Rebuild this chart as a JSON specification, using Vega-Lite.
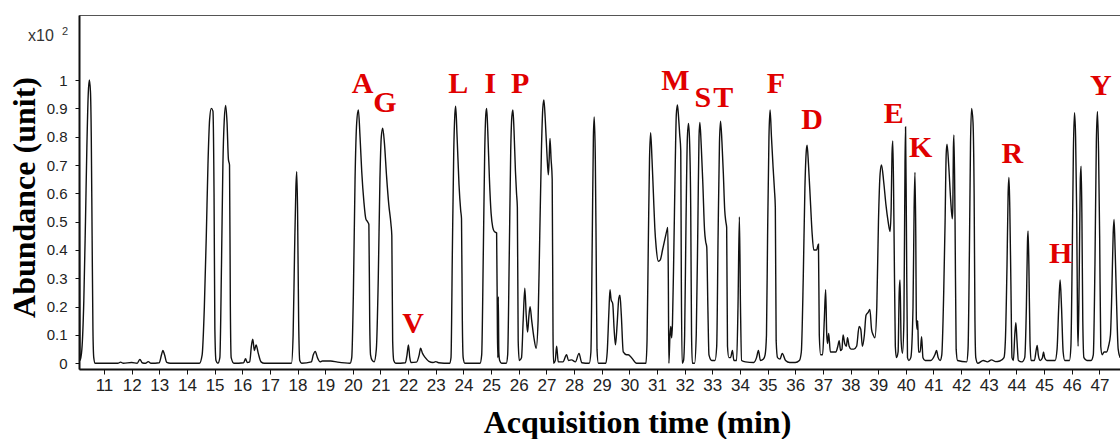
{
  "$schema": "https://vega.github.io/schema/vega-lite/v6.json",
  "width": 1042,
  "height": 354,
  "autosize": {"type": "none"},
  "padding": {"left": 79, "top": 15, "right": 0, "bottom": 70},
  "background": "white",
  "config": {
    "view": {"stroke": "#555", "strokeWidth": 1},
    "axis": {"grid": false}
  },
  "datasets": {
    "trace": [
      {"t":10.10,"v":1.10},{"t":10.12,"v":0.30},{"t":10.135,"v":0.01},{"t":10.20,"v":0.05},{"t":10.27,"v":0.22},{"t":10.33,"v":0.50},{"t":10.38,"v":0.76},{"t":10.43,"v":0.95},{"t":10.47,"v":1.0},{"t":10.51,"v":0.96},{"t":10.54,"v":0.80},{"t":10.57,"v":0.45},{"t":10.60,"v":0.12},{"t":10.63,"v":0.02},{"t":10.68,"v":0.0},
      {"t":11.50,"v":0.0},{"t":11.60,"v":0.004},{"t":11.70,"v":0.0},{"t":12.0,"v":0.003},{"t":12.20,"v":0.0},{"t":12.30,"v":0.014},{"t":12.38,"v":0.002},{"t":12.50,"v":0.0},{"t":12.60,"v":0.006},{"t":12.70,"v":0.0},
      {"t":13.00,"v":0.002},{"t":13.08,"v":0.03},{"t":13.13,"v":0.045},{"t":13.19,"v":0.03},{"t":13.27,"v":0.003},{"t":13.40,"v":0.0},
      {"t":14.45,"v":0.0},{"t":14.55,"v":0.03},{"t":14.63,"v":0.20},{"t":14.70,"v":0.45},{"t":14.76,"v":0.70},{"t":14.82,"v":0.86},{"t":14.88,"v":0.90},{"t":14.94,"v":0.89},{"t":14.98,"v":0.60},{"t":15.01,"v":0.12},{"t":15.05,"v":0.01},{"t":15.12,"v":0.0},
      {"t":15.19,"v":0.02},{"t":15.25,"v":0.35},{"t":15.30,"v":0.70},{"t":15.35,"v":0.86},{"t":15.40,"v":0.91},{"t":15.45,"v":0.85},{"t":15.50,"v":0.72},{"t":15.54,"v":0.70},{"t":15.57,"v":0.20},{"t":15.60,"v":0.02},{"t":15.70,"v":0.0},
      {"t":16.05,"v":0.002},{"t":16.12,"v":0.016},{"t":16.18,"v":0.003},{"t":16.27,"v":0.005},{"t":16.33,"v":0.06},{"t":16.38,"v":0.085},{"t":16.44,"v":0.045},{"t":16.50,"v":0.065},{"t":16.58,"v":0.035},{"t":16.68,"v":0.005},{"t":16.80,"v":0.0},
      {"t":17.78,"v":0.0},{"t":17.84,"v":0.10},{"t":17.89,"v":0.38},{"t":17.94,"v":0.62},{"t":17.97,"v":0.676},{"t":18.00,"v":0.55},{"t":18.04,"v":0.15},{"t":18.08,"v":0.01},{"t":18.15,"v":0.0},
      {"t":18.50,"v":0.005},{"t":18.57,"v":0.03},{"t":18.64,"v":0.042},{"t":18.72,"v":0.02},{"t":18.82,"v":0.005},{"t":18.90,"v":0.008},{"t":19.20,"v":0.008},{"t":19.45,"v":0.004},{"t":19.90,"v":0.0},
      {"t":19.96,"v":0.02},{"t":20.02,"v":0.25},{"t":20.08,"v":0.65},{"t":20.14,"v":0.85},{"t":20.20,"v":0.894},{"t":20.26,"v":0.80},{"t":20.32,"v":0.68},{"t":20.40,"v":0.57},{"t":20.47,"v":0.51},{"t":20.53,"v":0.50},{"t":20.58,"v":0.49},{"t":20.61,"v":0.15},{"t":20.64,"v":0.03},{"t":20.70,"v":0.01},
      {"t":20.77,"v":0.005},{"t":20.85,"v":0.05},{"t":20.92,"v":0.30},{"t":20.98,"v":0.65},{"t":21.03,"v":0.80},{"t":21.08,"v":0.83},{"t":21.14,"v":0.78},{"t":21.22,"v":0.66},{"t":21.30,"v":0.56},{"t":21.38,"v":0.49},{"t":21.41,"v":0.45},{"t":21.44,"v":0.08},{"t":21.48,"v":0.01},{"t":21.55,"v":0.0},
      {"t":21.90,"v":0.002},{"t":21.96,"v":0.03},{"t":22.01,"v":0.065},{"t":22.06,"v":0.02},{"t":22.10,"v":0.003},{"t":22.30,"v":0.004},{"t":22.40,"v":0.03},{"t":22.45,"v":0.053},{"t":22.52,"v":0.035},{"t":22.62,"v":0.02},{"t":22.75,"v":0.007},{"t":22.90,"v":0.003},{"t":23.00,"v":0.006},{"t":23.10,"v":0.002},{"t":23.50,"v":0.0},
      {"t":23.55,"v":0.02},{"t":23.60,"v":0.40},{"t":23.65,"v":0.75},{"t":23.69,"v":0.88},{"t":23.72,"v":0.908},{"t":23.77,"v":0.80},{"t":23.84,"v":0.63},{"t":23.90,"v":0.54},{"t":23.93,"v":0.51},{"t":23.96,"v":0.15},{"t":23.99,"v":0.02},{"t":24.05,"v":0.0},
      {"t":24.60,"v":0.0},{"t":24.66,"v":0.03},{"t":24.72,"v":0.40},{"t":24.77,"v":0.75},{"t":24.81,"v":0.88},{"t":24.84,"v":0.90},{"t":24.88,"v":0.82},{"t":24.94,"v":0.65},{"t":25.00,"v":0.53},{"t":25.06,"v":0.48},{"t":25.12,"v":0.465},{"t":25.20,"v":0.46},{"t":25.23,"v":0.10},{"t":25.245,"v":0.02},{"t":25.26,"v":0.235},{"t":25.28,"v":0.04},{"t":25.31,"v":0.01},{"t":25.38,"v":0.0},
      {"t":25.55,"v":0.0},{"t":25.60,"v":0.03},{"t":25.66,"v":0.40},{"t":25.71,"v":0.75},{"t":25.75,"v":0.87},{"t":25.79,"v":0.894},{"t":25.83,"v":0.82},{"t":25.88,"v":0.68},{"t":25.92,"v":0.60},{"t":25.95,"v":0.55},{"t":25.98,"v":0.08},{"t":26.02,"v":0.01},
      {"t":26.10,"v":0.02},{"t":26.16,"v":0.15},{"t":26.22,"v":0.265},{"t":26.27,"v":0.17},{"t":26.32,"v":0.11},{"t":26.37,"v":0.17},{"t":26.41,"v":0.20},{"t":26.47,"v":0.15},{"t":26.55,"v":0.09},{"t":26.63,"v":0.053},
      {"t":26.70,"v":0.15},{"t":26.76,"v":0.45},{"t":26.82,"v":0.75},{"t":26.87,"v":0.90},{"t":26.91,"v":0.93},{"t":26.96,"v":0.86},{"t":27.02,"v":0.74},{"t":27.07,"v":0.665},{"t":27.10,"v":0.72},{"t":27.13,"v":0.794},{"t":27.17,"v":0.72},{"t":27.21,"v":0.65},{"t":27.24,"v":0.10},{"t":27.26,"v":0.0},
      {"t":27.32,"v":0.01},{"t":27.37,"v":0.06},{"t":27.43,"v":0.005},{"t":27.60,"v":0.005},{"t":27.73,"v":0.03},{"t":27.80,"v":0.01},{"t":27.91,"v":0.012},{"t":28.05,"v":0.005},{"t":28.18,"v":0.035},{"t":28.28,"v":0.002},{"t":28.55,"v":0.0},
      {"t":28.61,"v":0.04},{"t":28.66,"v":0.45},{"t":28.70,"v":0.80},{"t":28.73,"v":0.87},{"t":28.77,"v":0.72},{"t":28.80,"v":0.40},{"t":28.83,"v":0.05},{"t":28.88,"v":0.0},
      {"t":29.15,"v":0.0},{"t":29.20,"v":0.04},{"t":29.26,"v":0.18},{"t":29.30,"v":0.26},{"t":29.34,"v":0.225},{"t":29.40,"v":0.21},{"t":29.45,"v":0.12},{"t":29.50,"v":0.065},{"t":29.56,"v":0.14},{"t":29.62,"v":0.23},{"t":29.66,"v":0.24},{"t":29.71,"v":0.17},{"t":29.78,"v":0.04},{"t":29.90,"v":0.03},{"t":29.96,"v":0.03},{"t":30.08,"v":0.02},{"t":30.26,"v":0.0},{"t":30.60,"v":0.0},
      {"t":30.64,"v":0.08},{"t":30.69,"v":0.45},{"t":30.73,"v":0.72},{"t":30.77,"v":0.814},{"t":30.82,"v":0.72},{"t":30.87,"v":0.60},{"t":30.92,"v":0.48},{"t":30.97,"v":0.41},{"t":31.05,"v":0.36},{"t":31.12,"v":0.365},{"t":31.20,"v":0.40},{"t":31.29,"v":0.44},{"t":31.36,"v":0.47},{"t":31.39,"v":0.48},{"t":31.41,"v":0.30},{"t":31.43,"v":0.0},
      {"t":31.47,"v":0.10},{"t":31.50,"v":0.13},{"t":31.53,"v":0.09},{"t":31.56,"v":0.14},{"t":31.61,"v":0.40},{"t":31.66,"v":0.70},{"t":31.70,"v":0.88},{"t":31.74,"v":0.912},{"t":31.78,"v":0.87},{"t":31.82,"v":0.81},{"t":31.86,"v":0.75},{"t":31.88,"v":0.30},{"t":31.91,"v":0.0},
      {"t":31.96,"v":0.01},{"t":32.00,"v":0.10},{"t":32.05,"v":0.50},{"t":32.10,"v":0.80},{"t":32.14,"v":0.847},{"t":32.18,"v":0.78},{"t":32.22,"v":0.55},{"t":32.25,"v":0.10},{"t":32.28,"v":0.0},
      {"t":32.36,"v":0.0},{"t":32.42,"v":0.10},{"t":32.48,"v":0.50},{"t":32.52,"v":0.80},{"t":32.55,"v":0.85},{"t":32.60,"v":0.77},{"t":32.66,"v":0.63},{"t":32.72,"v":0.47},{"t":32.76,"v":0.43},{"t":32.80,"v":0.41},{"t":32.84,"v":0.20},{"t":32.88,"v":0.03},{"t":32.98,"v":0.01},
      {"t":33.10,"v":0.01},{"t":33.16,"v":0.06},{"t":33.21,"v":0.45},{"t":33.26,"v":0.78},{"t":33.30,"v":0.855},{"t":33.35,"v":0.78},{"t":33.40,"v":0.67},{"t":33.45,"v":0.54},{"t":33.49,"v":0.50},{"t":33.52,"v":0.48},{"t":33.55,"v":0.06},{"t":33.60,"v":0.02},{"t":33.66,"v":0.02},{"t":33.73,"v":0.045},{"t":33.78,"v":0.01},
      {"t":33.88,"v":0.01},{"t":33.93,"v":0.20},{"t":33.98,"v":0.517},{"t":34.02,"v":0.20},{"t":34.06,"v":0.01},{"t":34.20,"v":0.005},{"t":34.50,"v":0.003},{"t":34.60,"v":0.02},{"t":34.67,"v":0.045},{"t":34.74,"v":0.01},{"t":34.85,"v":0.015},{"t":34.91,"v":0.03},
      {"t":34.96,"v":0.10},{"t":35.00,"v":0.45},{"t":35.05,"v":0.80},{"t":35.09,"v":0.894},{"t":35.14,"v":0.80},{"t":35.20,"v":0.69},{"t":35.25,"v":0.61},{"t":35.28,"v":0.55},{"t":35.31,"v":0.08},{"t":35.36,"v":0.02},{"t":35.45,"v":0.015},{"t":35.53,"v":0.035},{"t":35.65,"v":0.01},{"t":35.80,"v":0.003},{"t":36.00,"v":0.003},
      {"t":36.15,"v":0.01},{"t":36.22,"v":0.04},{"t":36.29,"v":0.30},{"t":36.35,"v":0.62},{"t":36.40,"v":0.75},{"t":36.43,"v":0.77},{"t":36.48,"v":0.70},{"t":36.55,"v":0.57},{"t":36.61,"v":0.46},{"t":36.67,"v":0.40},{"t":36.77,"v":0.40},{"t":36.84,"v":0.42},{"t":36.87,"v":0.10},{"t":36.92,"v":0.03},
      {"t":36.99,"v":0.03},{"t":37.05,"v":0.15},{"t":37.10,"v":0.26},{"t":37.14,"v":0.10},{"t":37.17,"v":0.07},{"t":37.21,"v":0.105},{"t":37.27,"v":0.04},{"t":37.38,"v":0.04},{"t":37.47,"v":0.04},{"t":37.54,"v":0.06},{"t":37.59,"v":0.08},{"t":37.64,"v":0.045},{"t":37.69,"v":0.05},{"t":37.73,"v":0.10},{"t":37.79,"v":0.07},{"t":37.85,"v":0.06},{"t":37.89,"v":0.09},{"t":37.95,"v":0.06},{"t":38.02,"v":0.05},{"t":38.12,"v":0.05},{"t":38.22,"v":0.06},
      {"t":38.31,"v":0.13},{"t":38.37,"v":0.12},{"t":38.43,"v":0.06},{"t":38.50,"v":0.10},{"t":38.56,"v":0.17},{"t":38.64,"v":0.18},{"t":38.70,"v":0.19},{"t":38.76,"v":0.12},{"t":38.82,"v":0.10},{"t":38.88,"v":0.09},
      {"t":38.95,"v":0.20},{"t":39.01,"v":0.50},{"t":39.07,"v":0.67},{"t":39.12,"v":0.70},{"t":39.20,"v":0.64},{"t":39.28,"v":0.56},{"t":39.36,"v":0.50},{"t":39.43,"v":0.465},{"t":39.47,"v":0.55},{"t":39.50,"v":0.74},{"t":39.53,"v":0.785},{"t":39.57,"v":0.50},{"t":39.62,"v":0.06},{"t":39.66,"v":0.02},
      {"t":39.72,"v":0.04},{"t":39.76,"v":0.25},{"t":39.79,"v":0.294},{"t":39.83,"v":0.08},{"t":39.88,"v":0.035},{"t":39.93,"v":0.15},{"t":39.97,"v":0.70},{"t":39.99,"v":0.834},{"t":40.02,"v":0.50},{"t":40.06,"v":0.02},{"t":40.11,"v":0.01},
      {"t":40.18,"v":0.02},{"t":40.26,"v":0.20},{"t":40.30,"v":0.55},{"t":40.33,"v":0.674},{"t":40.36,"v":0.45},{"t":40.38,"v":0.153},{"t":40.41,"v":0.12},{"t":40.43,"v":0.15},{"t":40.46,"v":0.04},{"t":40.52,"v":0.04},{"t":40.57,"v":0.094},{"t":40.62,"v":0.02},{"t":40.70,"v":0.01},{"t":40.90,"v":0.01},
      {"t":41.05,"v":0.03},{"t":41.11,"v":0.045},{"t":41.17,"v":0.02},{"t":41.24,"v":0.01},{"t":41.30,"v":0.03},{"t":41.37,"v":0.25},{"t":41.42,"v":0.50},{"t":41.46,"v":0.74},{"t":41.49,"v":0.773},{"t":41.55,"v":0.70},{"t":41.62,"v":0.58},{"t":41.68,"v":0.51},{"t":41.70,"v":0.55},{"t":41.72,"v":0.76},{"t":41.74,"v":0.806},{"t":41.78,"v":0.50},{"t":41.82,"v":0.05},{"t":41.87,"v":0.01},
      {"t":42.20,"v":0.005},{"t":42.25,"v":0.05},{"t":42.30,"v":0.40},{"t":42.34,"v":0.78},{"t":42.38,"v":0.90},{"t":42.43,"v":0.85},{"t":42.47,"v":0.60},{"t":42.50,"v":0.15},{"t":42.53,"v":0.02},{"t":42.60,"v":0.0},
      {"t":42.80,"v":0.01},{"t":42.95,"v":0.005},{"t":43.10,"v":0.012},{"t":43.25,"v":0.006},{"t":43.40,"v":0.008},{"t":43.55,"v":0.02},
      {"t":43.60,"v":0.08},{"t":43.66,"v":0.35},{"t":43.70,"v":0.60},{"t":43.73,"v":0.656},{"t":43.76,"v":0.55},{"t":43.80,"v":0.28},{"t":43.84,"v":0.02},{"t":43.89,"v":0.01},{"t":43.94,"v":0.10},{"t":43.98,"v":0.143},{"t":44.02,"v":0.08},{"t":44.07,"v":0.01},
      {"t":44.20,"v":0.005},{"t":44.30,"v":0.02},{"t":44.36,"v":0.20},{"t":44.40,"v":0.43},{"t":44.42,"v":0.467},{"t":44.45,"v":0.35},{"t":44.49,"v":0.08},{"t":44.53,"v":0.01},
      {"t":44.65,"v":0.01},{"t":44.72,"v":0.05},{"t":44.75,"v":0.063},{"t":44.79,"v":0.03},{"t":44.86,"v":0.01},{"t":44.94,"v":0.02},{"t":44.98,"v":0.04},{"t":45.02,"v":0.02},{"t":45.10,"v":0.01},
      {"t":45.40,"v":0.01},{"t":45.47,"v":0.05},{"t":45.53,"v":0.20},{"t":45.58,"v":0.294},{"t":45.63,"v":0.20},{"t":45.69,"v":0.04},{"t":45.75,"v":0.01},
      {"t":45.92,"v":0.01},{"t":45.97,"v":0.06},{"t":46.02,"v":0.40},{"t":46.06,"v":0.75},{"t":46.10,"v":0.885},{"t":46.14,"v":0.80},{"t":46.18,"v":0.53},{"t":46.21,"v":0.15},{"t":46.23,"v":0.06},{"t":46.27,"v":0.30},{"t":46.31,"v":0.65},{"t":46.34,"v":0.696},{"t":46.37,"v":0.50},{"t":46.40,"v":0.15},{"t":46.44,"v":0.02},
      {"t":46.55,"v":0.01},{"t":46.70,"v":0.01},{"t":46.78,"v":0.03},{"t":46.84,"v":0.35},{"t":46.89,"v":0.78},{"t":46.93,"v":0.889},{"t":46.97,"v":0.75},{"t":47.01,"v":0.45},{"t":47.05,"v":0.06},{"t":47.10,"v":0.03},{"t":47.17,"v":0.04},{"t":47.26,"v":0.04},{"t":47.33,"v":0.06},
      {"t":47.40,"v":0.10},{"t":47.45,"v":0.25},{"t":47.50,"v":0.46},{"t":47.53,"v":0.508},{"t":47.57,"v":0.40},{"t":47.62,"v":0.22},{"t":47.68,"v":0.05},{"t":47.75,"v":0.02}
    ],
    "letters": [
      {"t":20.35,"v":0.953,"label":"A"},
      {"t":21.16,"v":0.888,"label":"G"},
      {"t":22.18,"v":0.106,"label":"V"},
      {"t":23.81,"v":0.953,"label":"L"},
      {"t":24.97,"v":0.953,"label":"I"},
      {"t":26.05,"v":0.953,"label":"P"},
      {"t":31.67,"v":0.965,"label":"M"},
      {"t":32.66,"v":0.906,"label":"S"},
      {"t":33.40,"v":0.906,"label":"T"},
      {"t":35.30,"v":0.953,"label":"F"},
      {"t":36.61,"v":0.826,"label":"D"},
      {"t":39.56,"v":0.847,"label":"E"},
      {"t":40.54,"v":0.727,"label":"K"},
      {"t":43.85,"v":0.708,"label":"R"},
      {"t":45.60,"v":0.353,"label":"H"},
      {"t":47.05,"v":0.947,"label":"Y"}
    ],
    "unit": [
      {"t":8.251,"v":1.1394,"label":"x10","size":"big"},
      {"t":9.481,"v":1.1589,"label":"2","size":"small"}
    ]
  },
  "encoding": {
    "x": {
      "field": "t", "type": "quantitative",
      "scale": {"domain": [10.096, 47.782], "nice": false, "zero": false},
      "axis": {
        "title": "Acquisition time (min)",
        "values": [11,12,13,14,15,16,17,18,19,20,21,22,23,24,25,26,27,28,29,30,31,32,33,34,35,36,37,38,39,40,41,42,43,44,45,46,47],
        "format": "d",
        "domainColor": "#111", "domainWidth": 2,
        "tickColor": "#111", "tickSize": 5, "tickWidth": 1,
        "labelFont": "Liberation Sans", "labelFontSize": 17, "labelColor": "#222", "labelPadding": 3,
        "labelOverlap": false, "labelFlush": false,
        "titleFont": "Liberation Serif", "titleFontSize": 32, "titleFontWeight": "bold", "titleColor": "#000",
        "titleX": 558, "titleY": 63, "titleBaseline": "alphabetic", "titleAlign": "center"
      }
    },
    "y": {
      "field": "v", "type": "quantitative",
      "scale": {"domain": [-0.0201, 1.2295], "nice": false, "zero": false},
      "axis": {
        "title": "Abundance (unit)",
        "values": [0,0.1,0.2,0.3,0.4,0.5,0.6,0.7,0.8,0.9,1],
        "format": ".1~f",
        "labelOverlap": false,
        "domainColor": "#111", "domainWidth": 2,
        "tickColor": "#111", "tickSize": 4, "tickWidth": 1,
        "labelFont": "Liberation Sans", "labelFontSize": 15, "labelColor": "#222", "labelPadding": 8,
        "titleFont": "Liberation Serif", "titleFontSize": 32, "titleFontWeight": "bold", "titleColor": "#000",
        "titleAngle": -90, "titleX": -45, "titleY": 182, "titleBaseline": "alphabetic", "titleAlign": "center"
      }
    }
  },
  "layer": [
    {
      "data": {"name": "trace"},
      "mark": {"type": "line", "color": "#111111", "strokeWidth": 1.4, "interpolate": "monotone", "clip": true}
    },
    {
      "data": {"name": "letters"},
      "mark": {"type": "text", "color": "#e00000", "font": "Liberation Serif", "fontWeight": "bold", "fontSize": 30, "align": "center", "baseline": "alphabetic"},
      "encoding": {
        "text": {"field": "label"}
      }
    },
    {
      "data": {"name": "unit"},
      "mark": {"type": "text", "color": "#333", "font": "Liberation Sans", "align": "left", "baseline": "alphabetic"},
      "encoding": {
        "text": {"field": "label"},
        "size": {"field": "size", "type": "nominal", "scale": {"domain": ["big", "small"], "range": [16, 11]}, "legend": null}
      }
    }
  ]
}
